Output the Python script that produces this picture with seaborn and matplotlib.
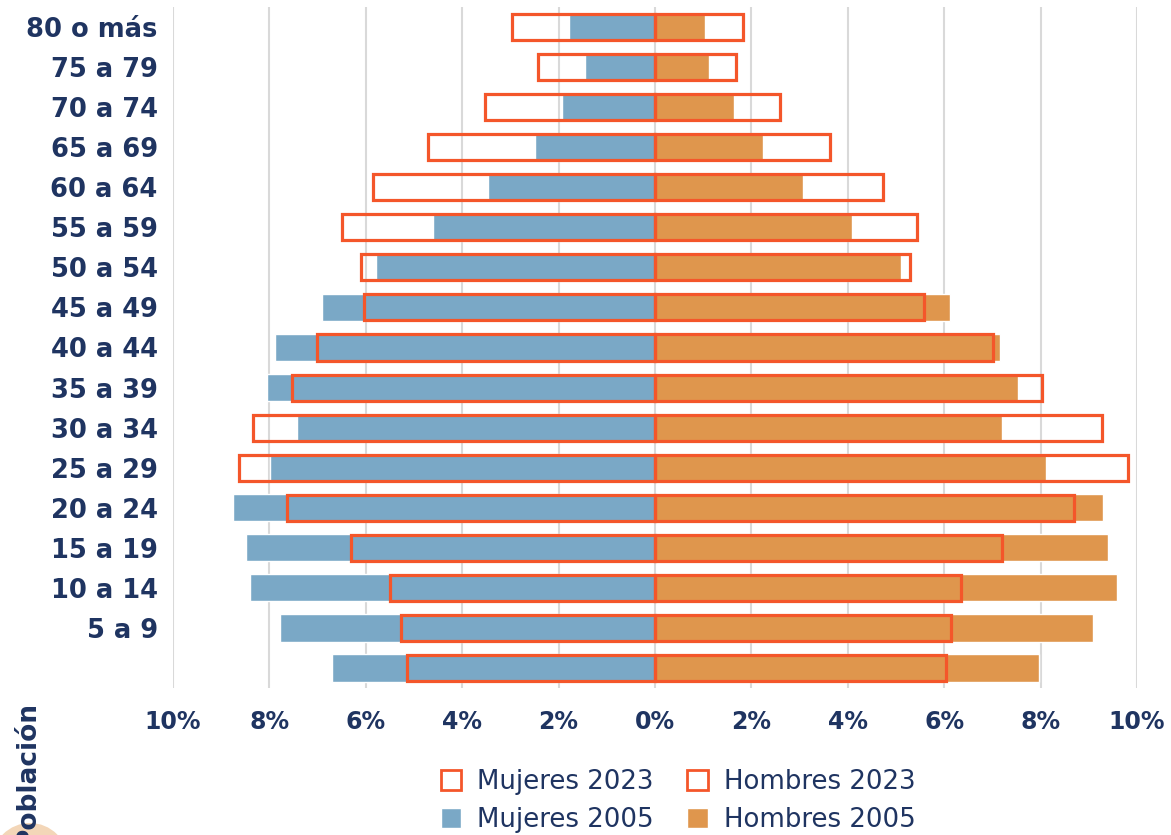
import matplotlib.pyplot as plt
import seaborn as sns
from matplotlib.patches import Patch, Circle
from matplotlib.transforms import IdentityTransform

# datos (% de la población), de 80 o más hasta 0 a 4
grupos = ['80 o más', '75 a 79', '70 a 74', '65 a 69', '60 a 64', '55 a 59', '50 a 54',
          '45 a 49', '40 a 44', '35 a 39', '30 a 34', '25 a 29', '20 a 24', '15 a 19',
          '10 a 14', '5 a 9', '0 a 4']
etiquetas = grupos[:-1] + ['']
mujeres_2005 = [1.78, 1.45, 1.93, 2.50, 3.46, 4.61, 5.78, 6.90, 7.88, 8.05, 7.43, 7.99, 8.75, 8.48, 8.41, 7.79, 6.71]
mujeres_2023 = [2.96, 2.42, 3.53, 4.70, 5.85, 6.49, 6.09, 6.04, 7.01, 7.53, 8.33, 8.63, 7.64, 6.31, 5.49, 5.28, 5.15]
hombres_2005 = [1.04, 1.11, 1.64, 2.24, 3.08, 4.09, 5.10, 6.13, 7.16, 7.53, 7.19, 8.11, 9.30, 9.40, 9.59, 9.09, 7.96]
hombres_2023 = [1.83, 1.68, 2.60, 3.63, 4.73, 5.44, 5.29, 5.58, 7.01, 8.03, 9.28, 9.81, 8.70, 7.20, 6.35, 6.14, 6.03]
xticks = [-10, -8, -6, -4, -2, 0, 2, 4, 6, 8, 10]

azul = '#7AA8C6'
naranja = '#DF964D'
rojo = '#F4562A'
texto = '#1F3461'

sns.set_style('white')
plt.rcParams['font.family'] = ['DejaVu Sans']

fig = plt.figure(figsize=(11.71, 8.35), dpi=100)
ax = fig.add_axes([173 / 1171, 1 - 688 / 835, (1137 - 173) / 1171, 681 / 835])

# barras 2005 rellenas
sns.barplot(x=[-v for v in mujeres_2005], y=grupos, order=grupos, orient='h', color=azul,
            saturation=1, width=0.68, errorbar=None, ax=ax)
sns.barplot(x=hombres_2005, y=grupos, order=grupos, orient='h', color=naranja,
            saturation=1, width=0.68, errorbar=None, ax=ax)
# barras 2023 solo contorno
sns.barplot(x=[-v for v in mujeres_2023], y=grupos, order=grupos, orient='h', color=rojo,
            fill=False, linewidth=2.3, saturation=1, width=0.65, errorbar=None, ax=ax)
sns.barplot(x=hombres_2023, y=grupos, order=grupos, orient='h', color=rojo,
            fill=False, linewidth=2.3, saturation=1, width=0.65, errorbar=None, ax=ax)

ax.set_xlim(-10, 10)
ax.set_ylim(16.5, -0.5)
ax.set_xticks(xticks)
ax.set_xticklabels([f'{abs(v)}%' for v in xticks])
ax.set_yticks(range(len(grupos)))
ax.set_yticklabels(etiquetas)
ax.set_xlabel('')
ax.set_ylabel('')
ax.xaxis.grid(True, color='#d9d9d9', linewidth=1.5)
ax.yaxis.grid(False)
ax.set_axisbelow(True)
sns.despine(ax=ax, left=True, bottom=True)
ax.tick_params(axis='x', length=0, pad=16, labelsize=17, labelcolor=texto)
ax.tick_params(axis='y', length=0, pad=11, labelsize=18.5, labelcolor=texto)
for t in ax.get_xticklabels() + ax.get_yticklabels():
    t.set_fontweight('bold')

# leyenda
handles = [Patch(facecolor='white', edgecolor=rojo, linewidth=2, label='Mujeres 2023'),
           Patch(facecolor=azul, label='Mujeres 2005'),
           Patch(facecolor='white', edgecolor=rojo, linewidth=2, label='Hombres 2023'),
           Patch(facecolor=naranja, label='Hombres 2005')]
leg = fig.legend(handles=handles, ncol=2, loc='center', bbox_to_anchor=(0.579, 0.041),
                 frameon=False, fontsize=18.7, handlelength=0.8, handleheight=0.8,
                 handletextpad=0.6, columnspacing=1.3, labelspacing=0.47)
for t in leg.get_texts():
    t.set_color(texto)

# título del eje cortado y círculo decorativo
fig.patches.append(Circle((30, -26), 38, transform=IdentityTransform(),
                          facecolor='#F3D6B8', edgecolor='none', zorder=0))
fig.text(0.024, 0.16, 'Población', rotation=90, va='top', ha='center',
         fontsize=19, fontweight='bold', color=texto)

fig.savefig('out.png', dpi=100)
